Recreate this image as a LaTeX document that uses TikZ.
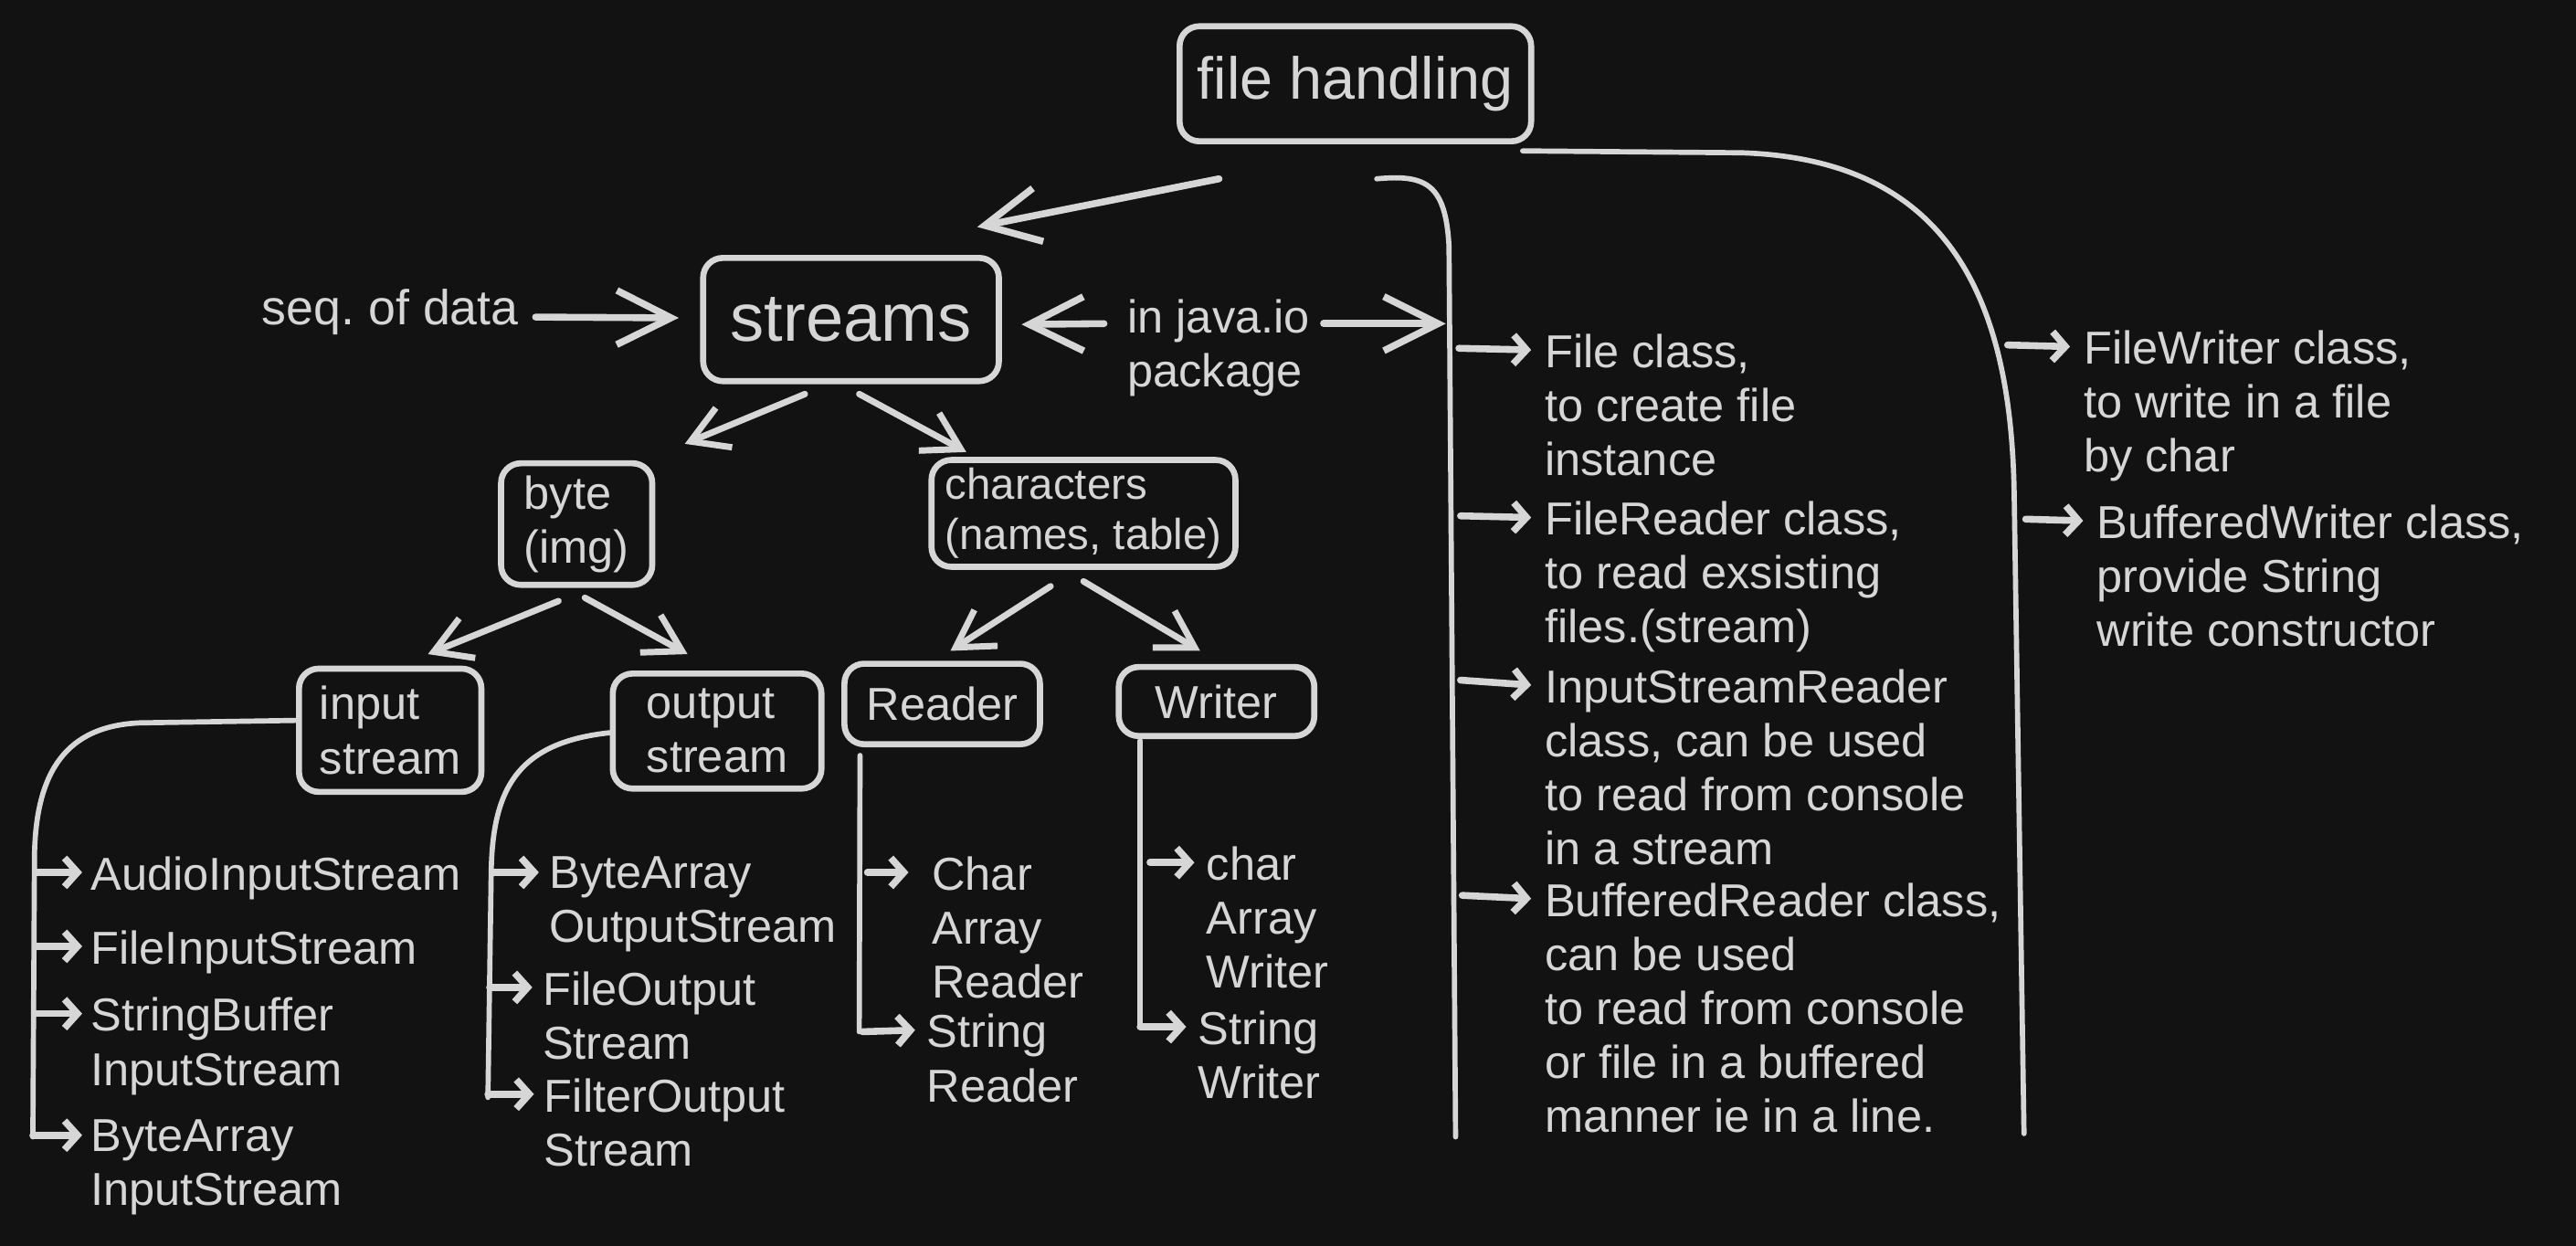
\documentclass[tikz,border=0pt]{standalone}
\usepackage{fontspec}
\setmainfont{Liberation Sans}
\usetikzlibrary{arrows.meta}
\definecolor{bg}{HTML}{121212}
\definecolor{ink}{HTML}{D6D6D6}
\newcommand\pxu{0.02cm}
\frenchspacing
\begin{document}
\begin{tikzpicture}[x=0.02cm, y=-0.02cm,
  box/.style={draw=ink, text=ink, line width=2.1pt, rounded corners=0.24cm, inner sep=0pt, align=left, font=\fontsize{16}{18.7}\selectfont},
  txt/.style={inner sep=0pt, anchor=north west, align=left, text=ink, font=\fontsize{16}{18.7}\selectfont},
  conn/.style={draw=ink, line width=1.8pt, line cap=round, line join=round},
  bigarr/.style={conn, line width=2.4pt, -{Straight Barb[length=0.66cm,width=0.66cm]}},
  midarr/.style={conn, line width=2.2pt, -{Straight Barb[length=0.44cm,width=0.52cm]}},
  smallarr/.style={conn, line width=2.4pt, -{Straight Barb[length=4.5pt,width=10pt]}}]
\fill[bg] (0,0) rectangle (1568,758.4);

% boxes
\node[box, minimum width=214*\pxu, minimum height=70*\pxu, font=\fontsize{20.5}{24}\selectfont] (fh) at (825,51) {file handling};
\node[box, minimum width=180*\pxu, minimum height=75*\pxu, font=\fontsize{23.5}{27}\selectfont] (streams) at (518,194.5) {streams};
\node[box, minimum width=92*\pxu, minimum height=74*\pxu] (byte) at (351,319) {byte\\(img)};
\node[box, minimum width=185*\pxu, minimum height=65*\pxu, font=\fontsize{15}{17.5}\selectfont] (chars) at (659.5,312.5) {characters\\(names, table)};
\node[box, minimum width=111*\pxu, minimum height=75*\pxu] (input) at (237.5,444.5) {input\\stream};
\node[box, minimum width=127*\pxu, minimum height=70*\pxu] (output) at (436.5,445) {output\\stream};
\node[box, minimum width=119*\pxu, minimum height=49*\pxu] (reader) at (573.5,428.5) {Reader};
\node[box, minimum width=119*\pxu, minimum height=42*\pxu] (writer) at (740.5,427) {Writer};

% free texts
\node[txt, anchor=east, font=\fontsize{17}{20}\selectfont] (seq) at (316,190) {seq. of data};
\node[txt] (java) at (686,182) {in java.io\\package};
\node[txt] (fileclass) at (940,203) {File class,\\to create file\\instance};
\node[txt] (filereader) at (940,305) {FileReader class,\\to read exsisting\\files.(stream)};
\node[txt] (isr) at (940,407) {InputStreamReader\\class, can be used\\to read from console\\in a stream};
\node[txt] (br) at (940,537) {BufferedReader class,\\can be used\\to read from console\\or file in a buffered\\manner ie in a line.};
\node[txt] (fw) at (1268,201) {FileWriter class,\\to write in a file\\by char};
\node[txt] (bw) at (1276,307) {BufferedWriter class,\\provide String\\write constructor};
\node[txt] (ais) at (55,521) {AudioInputStream};
\node[txt] (fis) at (55,566) {FileInputStream};
\node[txt] (sbis) at (55,607) {StringBuffer\\InputStream};
\node[txt] (bais) at (55,681) {ByteArray\\InputStream};
\node[txt] (baos) at (334,521) {ByteArray\\OutputStream};
\node[txt] (fos) at (330,591) {FileOutput\\Stream};
\node[txt] (filos) at (331,656) {FilterOutput\\Stream};
\node[txt] (car) at (567,521) {Char\\Array\\Reader};
\node[txt] (sr) at (564,617) {String\\Reader};
\node[txt] (caw) at (734,515) {char\\Array\\Writer};
\node[txt] (sw) at (729,615) {String\\Writer};

% coordinates on trunks
\coordinate (t1j) at (880,197);
\coordinate (t1a) at (888,212);
\coordinate (t1b) at (889,314);
\coordinate (t1c) at (889,414);
\coordinate (t1d) at (890,545);
\coordinate (t1end) at (886,692);
\coordinate (t2end) at (1232,690);
\coordinate (t2a) at (1222,210);
\coordinate (t2b) at (1233,316);
\coordinate (iend) at (20,692);
\coordinate (i1) at (22,531);
\coordinate (i2) at (22,576);
\coordinate (i3) at (21,617);
\coordinate (i4) at (20,691);
\coordinate (oend) at (297,668);
\coordinate (o1) at (300,531);
\coordinate (o2) at (298,601);
\coordinate (o3) at (297,666);
\coordinate (rend) at (523,628);
\coordinate (r1) at (528,531);
\coordinate (r2) at (525,628);
\coordinate (wend) at (694,625);
\coordinate (w1) at (700,525);
\coordinate (w2) at (694,625);

% main arrows
\draw[bigarr] ([shift={(-83,21)}]fh.south) -- ([shift={(-15,-17)}]streams.north east);
\draw[bigarr] ([shift={(10,3)}]seq.east) -- ([shift={(-13,-1)}]streams.west);
\draw[bigarr] ([shift={(-14,15)}]java.north west) -- ([shift={(12,3)}]streams.east);
\draw[bigarr] ([shift={(8,15)}]java.north east) -- (t1j);

% trunks from file handling
\draw[conn] ([shift={(13,21)}]fh.south) .. controls (868,106) and (880,112) .. (882,150) -- (t1end);
\draw[conn] ([shift={(-7,4)}]fh.south east) -- (1060,93) .. controls (1185,97) and (1224,180) .. (1226,300) -- (t2end);
\draw[smallarr] (t1a) -- ([shift={(-8,10)}]fileclass.north west);
\draw[smallarr] (t1b) -- ([shift={(-8,10)}]filereader.north west);
\draw[smallarr] (t1c) -- ([shift={(-8,10)}]isr.north west);
\draw[smallarr] (t1d) -- ([shift={(-8,10)}]br.north west);
\draw[smallarr] (t2a) -- ([shift={(-8,10)}]fw.north west);
\draw[smallarr] (t2b) -- ([shift={(-8,10)}]bw.north west);

% tree arrows
\draw[midarr] ([shift={(-28,6)}]streams.south) -- ([shift={(18,-10)}]byte.north east);
\draw[midarr] ([shift={(5,6)}]streams.south) -- ([shift={(23,-3)}]chars.north west);
\draw[midarr] ([shift={(-11,8)}]byte.south) -- ([shift={(23,-7)}]input.north);
\draw[midarr] ([shift={(5,6)}]byte.south) -- ([shift={(-18,-10)}]output.north);
\draw[midarr] ([shift={(-20,10)}]chars.south) -- ([shift={(5,-6)}]reader.north);
\draw[midarr] ([shift={(0,7)}]chars.south) -- ([shift={(-10,-8)}]writer.north);

% input stream list
\draw[conn] ([shift={(0,-6)}]input.west) -- (85,440) .. controls (40,442) and (22,470) .. (21,520) -- (iend);
\draw[smallarr] (i1) -- ([shift={(-5,10)}]ais.north west);
\draw[smallarr] (i2) -- ([shift={(-5,10)}]fis.north west);
\draw[smallarr] (i3) -- ([shift={(-5,10)}]sbis.north west);
\draw[smallarr] (i4) -- ([shift={(-5,10)}]bais.north west);

% output stream list
\draw[conn] ([shift={(0,1)}]output.west) .. controls (315,452) and (300,480) .. (299,530) -- (oend);
\draw[smallarr] (o1) -- ([shift={(-6,10)}]baos.north west);
\draw[smallarr] (o2) -- ([shift={(-6,10)}]fos.north west);
\draw[smallarr] (o3) -- ([shift={(-6,10)}]filos.north west);

% reader list
\draw[conn] ([shift={(-50,5)}]reader.south) -- (rend);
\draw[smallarr] (r1) -- ([shift={(-14,10)}]car.north west);
\draw[smallarr] (r2) -- ([shift={(-7,10)}]sr.north west);

% writer list
\draw[conn] ([shift={(-46.5,1)}]writer.south) -- (wend);
\draw[smallarr] (w1) -- ([shift={(-7,10)}]caw.north west);
\draw[smallarr] (w2) -- ([shift={(-7,10)}]sw.north west);
\end{tikzpicture}
\end{document}
